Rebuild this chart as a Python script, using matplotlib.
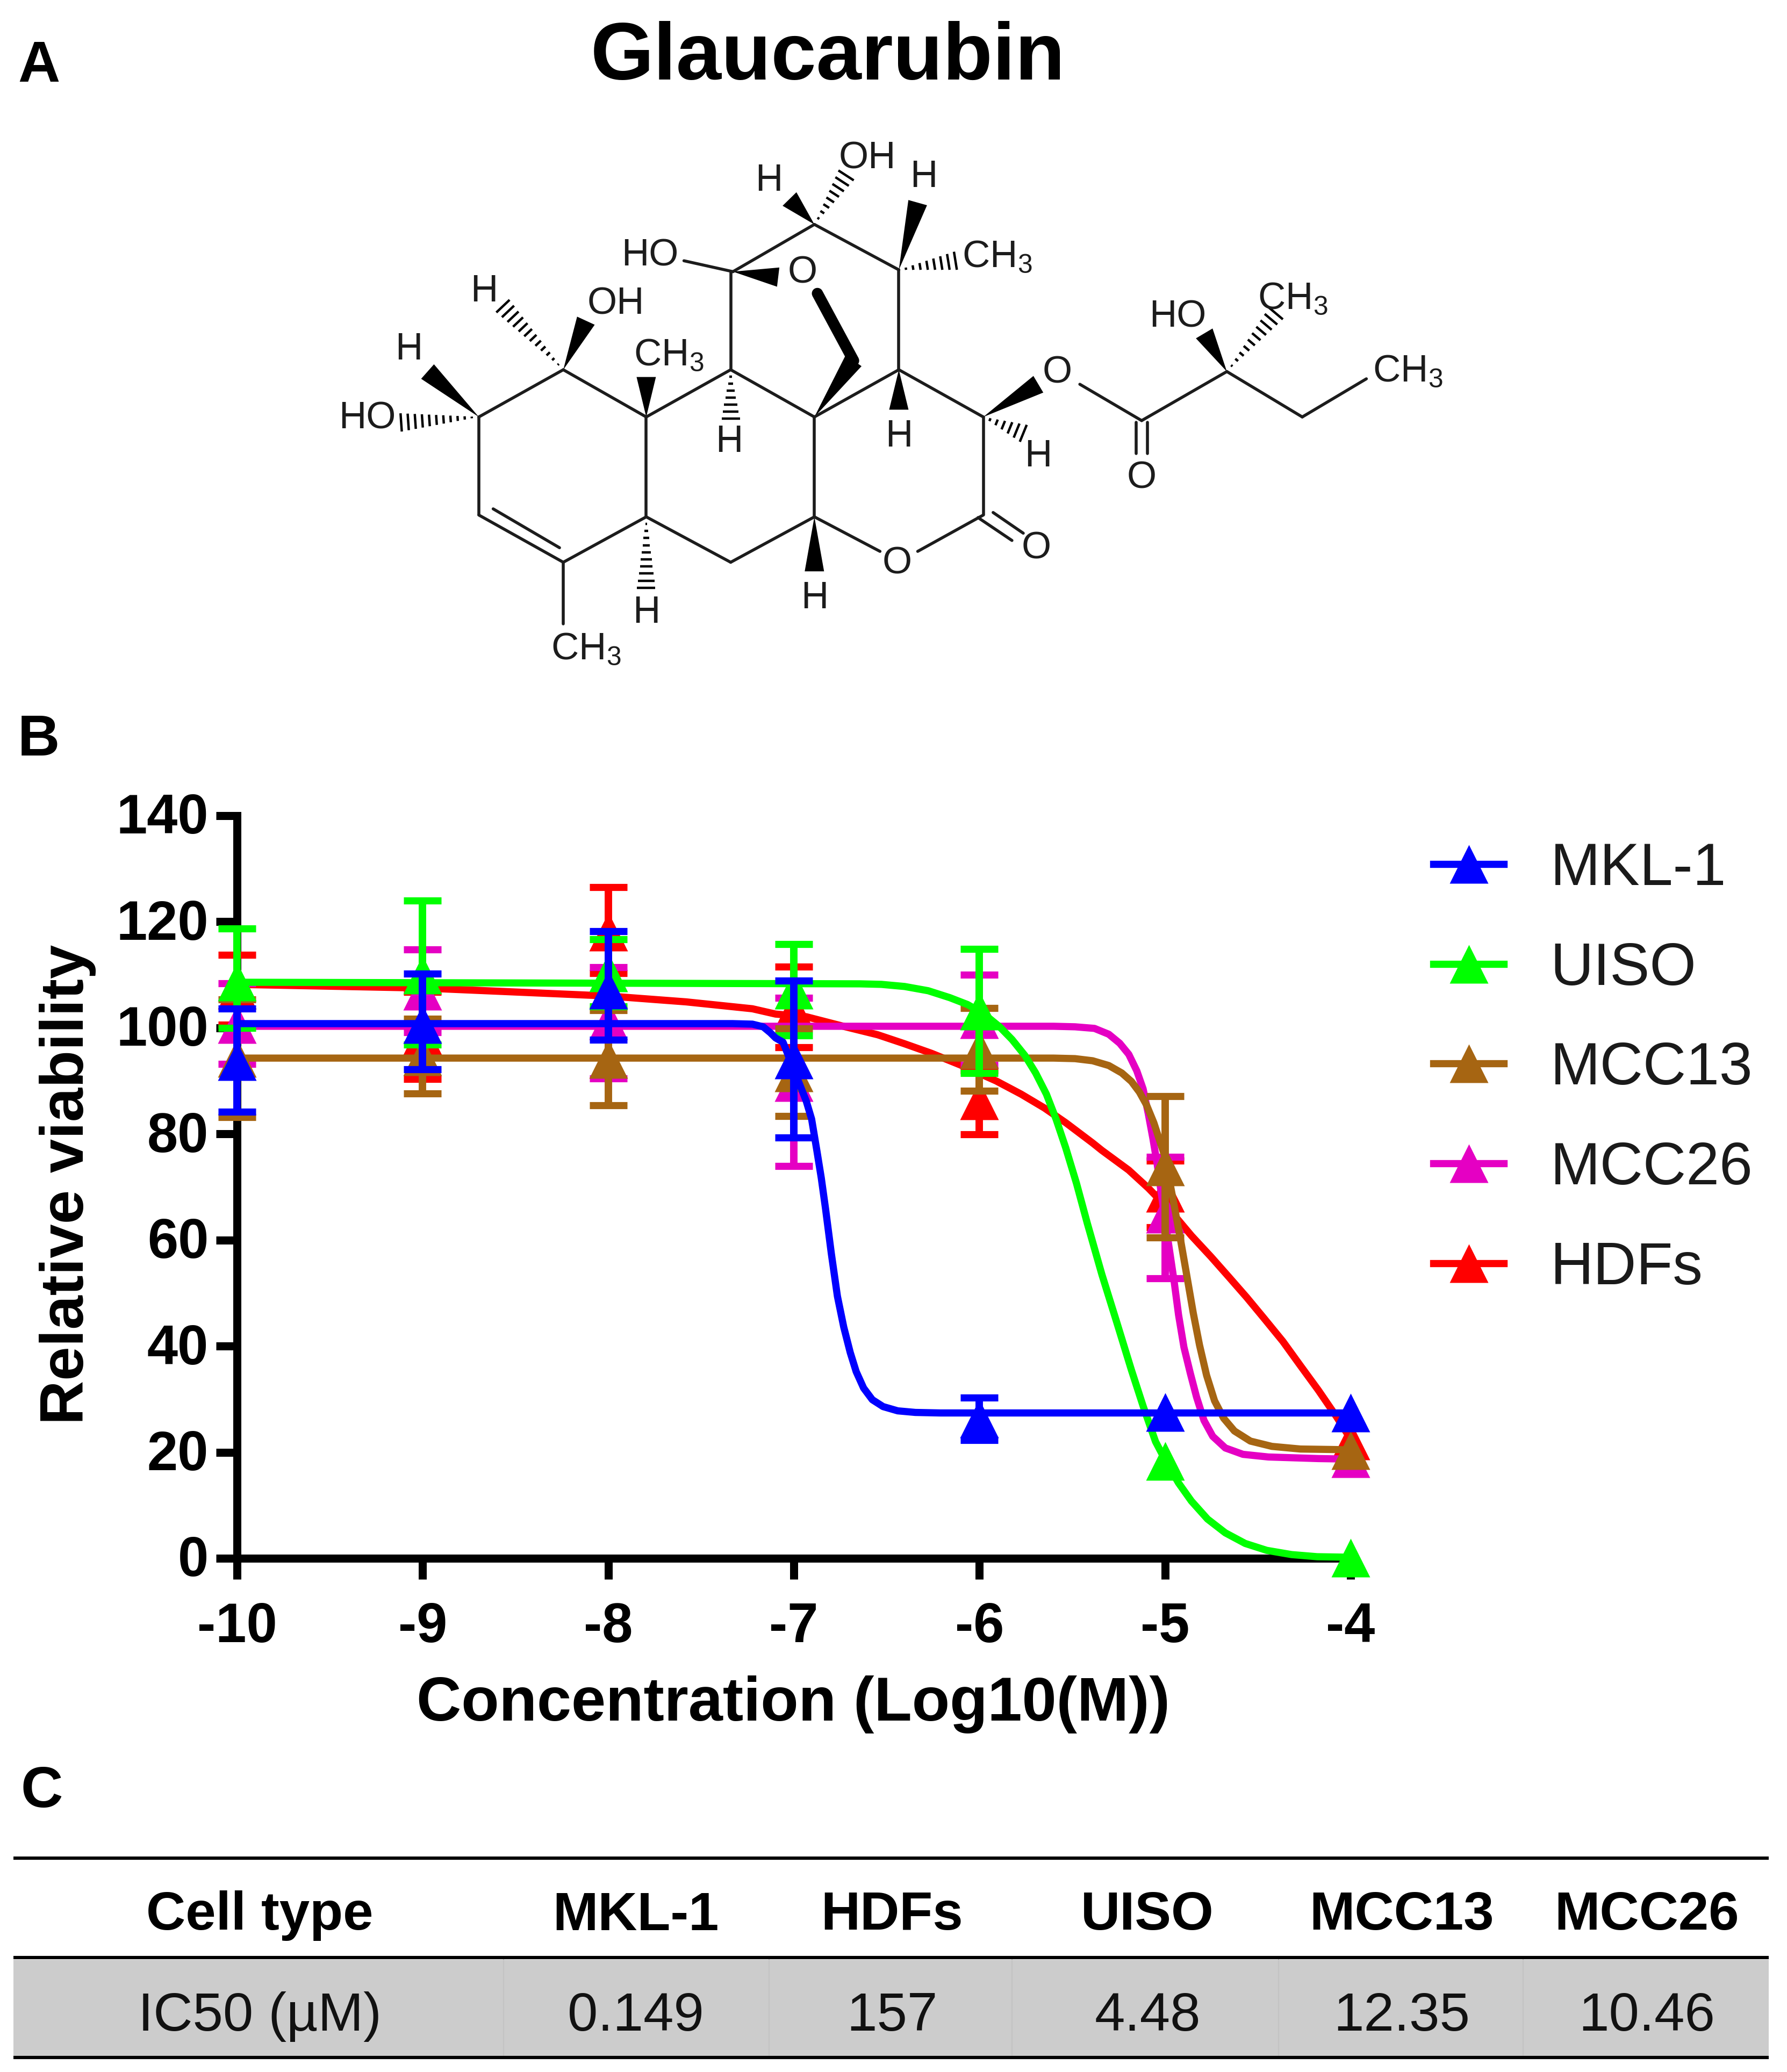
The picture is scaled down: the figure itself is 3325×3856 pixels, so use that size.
import numpy as np
import matplotlib
matplotlib.use("Agg")
import matplotlib.pyplot as plt
from matplotlib.lines import Line2D
from matplotlib.patches import Polygon, Rectangle
from matplotlib.transforms import ScaledTranslation

plt.rcParams['font.family'] = ['Liberation Sans', 'DejaVu Sans']
plt.rcParams['mathtext.fontset'] = 'custom'
plt.rcParams['mathtext.rm'] = 'Liberation Sans'
plt.rcParams['axes.unicode_minus'] = False

# ---------- chart data ----------
doses = [-10, -9, -8, -7, -6, -5, -4]
x_tick_labels = ['-10', '-9', '-8', '-7', '-6', '-5', '-4']
y_ticks = [0, 20, 40, 60, 80, 100, 120, 140]
nan = float('nan')

mkl_mean = [93.7, 100.7, 107.2, 94.0, 26.3, 27.6, 27.5]
mkl_up = [103.6, 110.2, 118.2, 108.9, 30.3, nan, nan]
mkl_lo = [84.2, 92.2, 97.8, 79.3, 22.3, nan, nan]

uiso_mean = [108.7, 110.0, 110.4, 107.2, 103.2, 18.3, 0.1]
uiso_up = [118.7, 124.0, 116.7, 115.8, 114.9, nan, nan]
uiso_lo = [100.0, 96.8, 104.0, 98.6, 91.5, nan, nan]

mcc13_mean = [94.3, 94.6, 94.1, 91.6, 95.9, 73.9, 20.4]
mcc13_up = [105.4, 101.7, 103.3, 99.9, 103.7, 87.1, nan]
mcc13_lo = [83.2, 87.6, 85.4, 83.4, 88.1, 60.5, nan]

mcc26_mean = [100.7, 107.0, 101.4, 89.8, 101.6, 64.9, 18.8]
mcc26_up = [108.4, 114.8, 111.4, 105.7, 110.0, 75.7, nan]
mcc26_lo = [93.2, 99.2, 90.5, 74.0, 93.0, 52.8, nan]

hdf_mean = [107.2, 98.6, 118.1, 103.5, 86.3, 68.9, 22.2]
hdf_up = [113.8, 106.8, 126.5, 111.5, 92.0, 75.0, nan]
hdf_lo = [100.6, 90.4, 110.3, 96.3, 79.9, 62.4, nan]

# fitted curves
mkl_cx = [-10, -7.33, -7.223, -7.165, -7.127, -7.098, -7.058, -6.933, -6.904, -6.875, -6.852, -6.829, -6.798,
          -6.765, -6.731, -6.696, -6.664, -6.624, -6.577, -6.519, -6.44, -6.345, -6.21, -4]
mkl_cy = [100.8, 100.8, 100.7, 100.2, 99.1, 98.1, 97.3, 86.2, 82.8, 76.7, 71.7, 65.9, 57.5,
          49.4, 43.6, 38.8, 35.2, 32.1, 29.9, 28.6, 27.8, 27.5, 27.4, 27.4]
uiso_cx = [-10, -6.644, -6.528, -6.403, -6.276, -6.16, -6.064, -5.978, -5.891, -5.824, -5.755, -5.697, -5.639,
           -5.587, -5.535, -5.477, -5.419, -5.34, -5.26, -5.181, -5.118, -5.051, -5.0, -4.927, -4.858, -4.771,
           -4.675, -4.568, -4.452, -4.318, -4.18, -4]
uiso_cy = [108.6, 108.3, 108.2, 107.8, 107.0, 105.7, 104.4, 102.7, 100.2, 97.8, 94.8, 91.5, 87.5,
           82.8, 77.4, 70.7, 63.2, 53.5, 44.5, 35.5, 28.7, 22.0, 18.6, 14.2, 10.8, 7.4,
           4.8, 2.8, 1.5, 0.7, 0.3, 0.2]
mcc13_cx = [-10, -5.6, -5.485, -5.39, -5.303, -5.233, -5.181, -5.138, -5.1, -5.06, -5.032, -5.0, -4.96, -4.915,
            -4.883, -4.848, -4.814, -4.776, -4.733, -4.684, -4.626, -4.54, -4.424, -4.27, -4.075, -4]
mcc13_cy = [94.3, 94.3, 94.2, 93.8, 92.9, 91.5, 89.9, 87.9, 85.5, 82.1, 79.1, 75.7, 68.3, 59.8,
            53.4, 46.3, 40.2, 34.5, 29.7, 26.4, 24.0, 22.1, 21.1, 20.6, 20.5, 20.4]
mcc26_cx = [-10, -5.6, -5.485, -5.38, -5.303, -5.244, -5.195, -5.152, -5.118, -5.09, -5.065, -5.042, -5.0, -4.95,
            -4.927, -4.898, -4.863, -4.83, -4.79, -4.743, -4.675, -4.58, -4.443, -4.174, -4]
mcc26_cy = [100.3, 100.3, 100.2, 99.9, 98.8, 97.1, 95.0, 91.9, 88.5, 83.8, 79.1, 74.3, 63.8, 52.0,
            45.9, 39.8, 34.8, 30.4, 26.0, 23.0, 20.8, 19.6, 19.1, 18.8, 18.7]
hdf_cx = [-10, -8.99, -7.997, -7.58, -7.223, -7.098, -6.933, -6.722, -6.548, -6.403, -6.258, -6.102, -5.91, -5.775,
          -5.65, -5.534, -5.39, -5.34, -5.196, -5.09, -4.97, -4.857, -4.751, -4.655, -4.56, -4.463, -4.365,
          -4.27, -4.174, -4.076, -4]
hdf_cy = [108.2, 107.5, 106.0, 104.9, 103.6, 102.6, 102.1, 100.2, 98.7, 97.0, 95.2, 93.0, 90.0, 87.5,
          84.9, 82.1, 78.3, 76.9, 73.2, 69.8, 65.5, 60.8, 56.8, 53.0, 49.2, 45.1, 40.9,
          36.3, 31.7, 26.7, 22.5]

series_draw_order = [
    ('HDFs', '#FF0000', hdf_mean, hdf_up, hdf_lo, hdf_cx, hdf_cy),
    ('MCC26', '#E500C3', mcc26_mean, mcc26_up, mcc26_lo, mcc26_cx, mcc26_cy),
    ('MCC13', '#A66512', mcc13_mean, mcc13_up, mcc13_lo, mcc13_cx, mcc13_cy),
    ('UISO', '#00FF00', uiso_mean, uiso_up, uiso_lo, uiso_cx, uiso_cy),
    ('MKL-1', '#0000FF', mkl_mean, mkl_up, mkl_lo, mkl_cx, mkl_cy),
]
legend_order = ['MKL-1', 'UISO', 'MCC13', 'MCC26', 'HDFs']

# ---------- table data ----------
table_head = ['Cell type', 'MKL-1', 'HDFs', 'UISO', 'MCC13', 'MCC26']
table_row = ['IC50 (µM)', '0.149', '157', '4.48', '12.35', '10.46']

# ---------- figure ----------
W, H = 3325, 3856
fig = plt.figure(figsize=(W / 100, H / 100), dpi=100, facecolor='white')

# overlay in picture pixels for the structure drawing, panel letters and table
pg = fig.add_axes([0, 0, 1, 1])
pg.set_xlim(0, W)
pg.set_ylim(H, 0)
pg.axis('off')

for letter, lx, ly in [('A', 72, 124), ('B', 72, 1378), ('C', 78, 3335)]:
    pg.text(lx, ly, letter, fontsize=78, fontweight='bold', ha='center', va='center')
pg.text(1540, 109, 'Glaucarubin', fontsize=109, fontweight='bold', ha='center', va='center')


# ---------- structure drawing (coordinates in its own sketch units) ----------
def sx(p):
    return (550 + p[0] * 2200 / 1568, 225 + p[1] * 1060 / 1568)


MOL = '#1c1c1c'
bonds = [
    ((243, 815), (355, 685)), ((355, 685), (465, 815)), ((465, 815), (465, 1090)),
    ((465, 1090), (355, 1215)), ((355, 1215), (243, 1085)), ((243, 1085), (243, 815)),
    ((262, 1068), (350, 1175)),
    ((465, 1090), (577, 1215)), ((577, 1215), (688, 1090)), ((688, 1090), (688, 815)),
    ((688, 815), (577, 685)), ((577, 685), (465, 815)),
    ((577, 685), (577, 415)), ((688, 815), (800, 685)), ((800, 685), (800, 410)),
    ((800, 410), (688, 285)), ((688, 285), (580, 415)),
    ((800, 685), (912, 815)), ((912, 815), (912, 1085)), ((912, 1085), (825, 1185)),
    ((775, 1185), (688, 1090)),
    ((905, 1092), (950, 1155)), ((925, 1078), (965, 1135)),
    ((1040, 725), (1122, 825)), ((1115, 830), (1115, 915)), ((1130, 830), (1130, 915)),
    ((1122, 825), (1235, 690)), ((1235, 690), (1335, 815)), ((1335, 815), (1420, 710)),
    ((355, 1215), (355, 1385)), ((515, 385), (580, 415)),
]
wedges = [
    ((243, 815), (175, 690)), ((355, 685), (385, 550)), ((465, 815), (465, 705)),
    ((688, 815), (740, 660)), ((800, 685), (800, 795)), ((912, 815), (985, 725)),
    ((688, 1090), (688, 1240)), ((580, 415), (640, 430)), ((688, 285), (655, 215)),
    ((800, 410), (825, 225)), ((1235, 690), (1205, 585)),
]
hashes = [
    ((243, 815), (140, 830)), ((355, 685), (275, 510)), ((577, 685), (577, 820)),
    ((912, 815), (965, 860)), ((465, 1090), (465, 1285)), ((688, 285), (730, 150)),
    ((800, 410), (875, 385)), ((1235, 690), (1300, 530)),
]
atoms = [
    ('HO', 95, 820), ('H', 150, 630), ('H', 250, 470), ('OH', 425, 505),
    ('CH$_{\\mathrm{3}}$', 495, 645), ('HO', 470, 372), ('O', 672, 420), ('H', 628, 165),
    ('OH', 758, 105), ('H', 833, 155), ('CH$_{\\mathrm{3}}$', 930, 375), ('H', 575, 885),
    ('H', 800, 870), ('O', 1010, 695), ('H', 985, 925), ('O', 798, 1220), ('O', 982, 1178),
    ('H', 688, 1315), ('H', 465, 1355), ('CH$_{\\mathrm{3}}$', 385, 1455), ('HO', 1170, 540),
    ('CH$_{\\mathrm{3}}$', 1322, 490), ('CH$_{\\mathrm{3}}$', 1475, 690), ('O', 1122, 985),
]
for a, b in bonds:
    (x0, y0), (x1, y1) = sx(a), sx(b)
    pg.plot([x0, x1], [y0, y1], color=MOL, lw=4, solid_capstyle='round')
for a, b in wedges:
    p0, p1 = np.array(sx(a)), np.array(sx(b))
    d = p1 - p0
    n = np.array([-d[1], d[0]]) / np.hypot(*d)
    pg.add_patch(Polygon([p0, p1 + 18 * n, p1 - 18 * n], closed=True, fc='black', ec='none'))
for a, b in hashes:
    p0, p1 = np.array(sx(a)), np.array(sx(b))
    d = p1 - p0
    length = np.hypot(*d)
    n = np.array([-d[1], d[0]]) / length
    count = max(int(length / 13), 4)
    for i in range(1, count + 1):
        t = i / count
        c = p0 + d * t
        hw = 17 * t
        pg.plot([c[0] - hw * n[0], c[0] + hw * n[0]], [c[1] - hw * n[1], c[1] + hw * n[1]],
                color='black', lw=3.2, solid_capstyle='butt')
# the thick bridge to the ring oxygen
q0, q1 = sx((740, 660)), sx((692, 475))
pg.plot([q0[0], q1[0]], [q0[1], q1[1]], color='black', lw=15, solid_capstyle='round')
for label, ax_, ay_ in atoms:
    px, py = sx((ax_, ay_))
    pg.text(px, py, label, fontsize=51, color=MOL, ha='center', va='center', math_fontfamily='custom')

# ---------- dose-response chart ----------
L, R, T, B_ = 441, 2513, 1518, 2900
ax = fig.add_axes([L / W, 1 - B_ / H, (R - L) / W, (B_ - T) / H])
ax.patch.set_alpha(0)
ax.set_xlim(-10, -4)
ax.set_ylim(0, 140)
for s in ['top', 'right']:
    ax.spines[s].set_visible(False)
for s in ['left', 'bottom']:
    ax.spines[s].set_linewidth(10.8)
    ax.spines[s].set_capstyle('projecting')
ax.set_xticks(doses)
ax.set_xticklabels(x_tick_labels)
ax.set_yticks(y_ticks)
ax.tick_params(axis='both', length=28, width=10.8, labelsize=74)
ax.tick_params(axis='x', pad=30)
ax.tick_params(axis='y', pad=10)
for t in ax.get_xticklabels():
    t.set_fontweight('bold')
for t in ax.get_yticklabels():
    t.set_fontweight('bold')
    t.set_transform(t.get_transform() + ScaledTranslation(0, 4 / 100, fig.dpi_scale_trans))
ax.set_xlabel('Concentration (Log10(M))', fontsize=83, fontweight='bold')
ax.xaxis.set_label_coords((1476 - L) / (R - L), (B_ - 3172) / (B_ - T), transform=ax.transAxes)
ax.xaxis.label.set_va('center')
ax.set_ylabel('Relative viability', fontsize=82, fontweight='bold')
ax.yaxis.set_label_coords((126 - L) / (R - L), (B_ - 2204) / (B_ - T), transform=ax.transAxes)
ax.yaxis.label.set_va('center')

handles = {}
for i, (name, col, mean, up, lo, cx, cy) in enumerate(series_draw_order):
    z = 3 + i
    m = np.array(mean, float)
    yerr = np.vstack([m - np.array(lo, float), np.array(up, float) - m])
    ax.plot(cx, cy, color=col, lw=9.6, zorder=z, clip_on=False, solid_capstyle='butt')
    ax.errorbar(doses, mean, yerr=yerr, fmt='none', ecolor=col, elinewidth=10,
                capsize=25, capthick=9.5, zorder=z, clip_on=False)
    ax.plot(doses, mean, ls='none', marker='^', ms=51.5, mfc=col, mec='none', zorder=z, clip_on=False)
    handles[name] = Line2D([0], [0], color=col, lw=9.6, marker='^', ms=51.5, mec='none')

leg = ax.legend([handles[n] for n in legend_order], legend_order, loc='upper left',
                bbox_to_anchor=(2667 / W, 1 - 1566 / H), bbox_transform=fig.transFigure,
                frameon=False, fontsize=80, handlelength=1.18, handletextpad=0.78,
                labelspacing=0.735, numpoints=1, borderpad=0, borderaxespad=0)
for t in leg.get_texts():
    t.set_color('#1a1a1a')

# ---------- table ----------
tx0, tx1 = 25, 3291
pg.add_patch(Rectangle((tx0, 3647), tx1 - tx0, 179, fc='#CCCCCC', ec='none'))
for xs in [937, 1431, 1883, 2379, 2834]:
    pg.plot([xs, xs], [3647, 3826], color='#C3C3C3', lw=1.5)
for ys in [3458, 3643, 3829]:
    pg.plot([tx0, tx1], [ys, ys], color='black', lw=4.4, solid_capstyle='butt')
col_x = [483, 1183, 1660, 2135, 2608, 3064]
for cxp, h, v in zip(col_x, table_head, table_row):
    pg.text(cxp, 3555, h, fontsize=73, fontweight='bold', ha='center', va='center_baseline')
    pg.text(cxp, 3742, v, fontsize=73, ha='center', va='center_baseline', color='#111111')

fig.savefig('out.png', dpi=100, facecolor='white')
